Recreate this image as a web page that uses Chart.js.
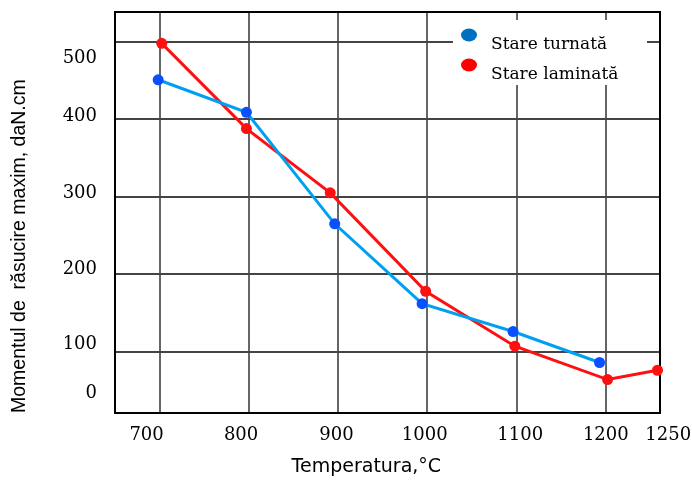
<!DOCTYPE html>
<html>
<head>
<meta charset="utf-8">
<script src="https://cdn.jsdelivr.net/npm/chart.js@4/dist/chart.umd.min.js"></script>
<style>
  html, body { margin: 0; padding: 0; background: #fff; }
  #wrap { width: 692px; height: 481px; }
</style>
</head>
<body>
<div id="wrap"><canvas id="chart" width="692" height="481"></canvas></div>
<script>
// Stare turnata (cast)
const tempCast = [698, 797, 896, 994, 1096, 1193];
const momentCast = [451, 409, 265, 162, 126, 86];
// Stare laminata (rolled)
const tempRolled = [702, 797, 891, 998, 1098, 1202, 1258];
const momentRolled = [498, 388, 305, 178, 107, 64, 76];

// grid lines
const xGridValues = [700, 800, 900, 1000, 1100, 1200];
const yGridValues = [100, 200, 300, 400, 500];
// tick labels (placed as in the original figure, slightly off the grid)
const xLabelValues = [685, 791, 898, 997, 1104, 1200, 1270];
const xLabelText = ["700", "800", "900", "1000", "1100", "1200", "1250"];
const yLabelValues = [46, 110, 206, 305, 404, 479];
const yLabelText = ["0", "100", "200", "300", "400", "500"];

const X_MIN = 649.6, X_MAX = 1260.8;
const Y_MIN = 20.8, Y_MAX = 538.5;

const serif = "'DejaVu Serif', serif";

function toPoints(xs, ys) {
  return xs.map((x, i) => ({ x: x, y: ys[i] }));
}

// no automatic label overflow padding, the frame is placed by hand
function noPad(s) {
  s.paddingTop = 0;
  s.paddingBottom = 0;
  s.paddingLeft = 0;
  s.paddingRight = 0;
}

// legend drawn inside the plot, on a white box
const insideLegend = {
  id: "insideLegend",
  afterDatasetsDraw(chart) {
    const ctx = chart.ctx;
    ctx.save();
    ctx.fillStyle = "#fff";
    ctx.fillRect(453, 20, 194, 65);
    const markerColors = ["#0070c0", "#ff0000"];
    chart.data.datasets.forEach((ds, i) => {
      const my = 35 + i * 30;
      ctx.fillStyle = markerColors[i];
      ctx.beginPath();
      ctx.ellipse(469, my, 8, 6.5, 0, 0, Math.PI * 2);
      ctx.fill();
      ctx.fillStyle = "#000";
      ctx.font = "17px " + serif;
      ctx.textBaseline = "middle";
      ctx.fillText(ds.label, 491, my + 10);
    });
    ctx.restore();
  },
};

new Chart(document.getElementById("chart"), {
  type: "line",
  data: {
    datasets: [
      {
        label: "Stare turnată",
        data: toPoints(tempCast, momentCast),
        borderColor: "#00a0f0",
        backgroundColor: "#0a50ff",
        pointBackgroundColor: "#0a50ff",
        pointBorderWidth: 0,
        pointRadius: 5.5,
        borderWidth: 3,
        tension: 0,
        clip: false,
      },
      {
        label: "Stare laminată",
        data: toPoints(tempRolled, momentRolled),
        borderColor: "#ff1010",
        backgroundColor: "#ff1010",
        pointBackgroundColor: "#ff1010",
        pointBorderWidth: 0,
        pointRadius: 5.5,
        borderWidth: 3,
        tension: 0,
        clip: false,
      },
    ],
  },
  options: {
    responsive: false,
    animation: false,
    layout: { padding: { top: 12, right: 32, bottom: 0, left: 0 } },
    plugins: {
      legend: { display: false },
      tooltip: { enabled: false },
    },
    scales: {
      x: {
        type: "linear",
        position: "bottom",
        min: X_MIN,
        max: X_MAX,
        afterBuildTicks: (s) => { s.ticks = xLabelValues.map((v) => ({ value: v })); },
        afterFit: (s) => { s.height = 68; noPad(s); },
        grid: { display: false, drawTicks: false },
        border: { display: true, color: "#000", width: 2 },
        ticks: {
          padding: 12,
          color: "#000",
          font: { family: serif, size: 18 },
          callback: (v, i) => xLabelText[i],
        },
        title: {
          display: true,
          text: "Temperatura,°C       ",
          color: "#000",
          font: { family: "'DejaVu Sans', sans-serif", size: 19 },
          padding: { top: 0, bottom: 3 },
        },
      },
      xGrid: {
        type: "linear",
        position: "top",
        min: X_MIN,
        max: X_MAX,
        afterBuildTicks: (s) => { s.ticks = xGridValues.map((v) => ({ value: v })); },
        afterFit: (s) => { s.height = 0; noPad(s); },
        grid: { display: true, drawTicks: false, color: "#666", lineWidth: 2 },
        border: { display: true, color: "#000", width: 2 },
        ticks: { display: false },
      },
      y: {
        type: "linear",
        position: "left",
        min: Y_MIN,
        max: Y_MAX,
        afterBuildTicks: (s) => { s.ticks = yLabelValues.map((v) => ({ value: v })); },
        afterFit: (s) => { s.width = 115; noPad(s); },
        grid: { display: false, drawTicks: false },
        border: { display: true, color: "#000", width: 2 },
        ticks: {
          padding: 18,
          color: "#000",
          font: { family: serif, size: 18 },
          callback: (v, i) => yLabelText[i],
        },
        title: {
          display: true,
          align: "start",
          text: "Momentul de  răsucire maxim, daN.cm",
          color: "#000",
          font: { family: "'Liberation Sans', Arial, sans-serif", size: 19.5 },
          padding: { top: 8, bottom: 0 },
        },
      },
      yGrid: {
        type: "linear",
        position: "right",
        min: Y_MIN,
        max: Y_MAX,
        afterBuildTicks: (s) => { s.ticks = yGridValues.map((v) => ({ value: v })); },
        afterFit: (s) => { s.width = 0; noPad(s); },
        grid: { display: true, drawTicks: false, color: "#444", lineWidth: 2 },
        border: { display: true, color: "#000", width: 2 },
        ticks: { display: false },
      },
    },
  },
  plugins: [insideLegend],
});
</script>
</body>
</html>
